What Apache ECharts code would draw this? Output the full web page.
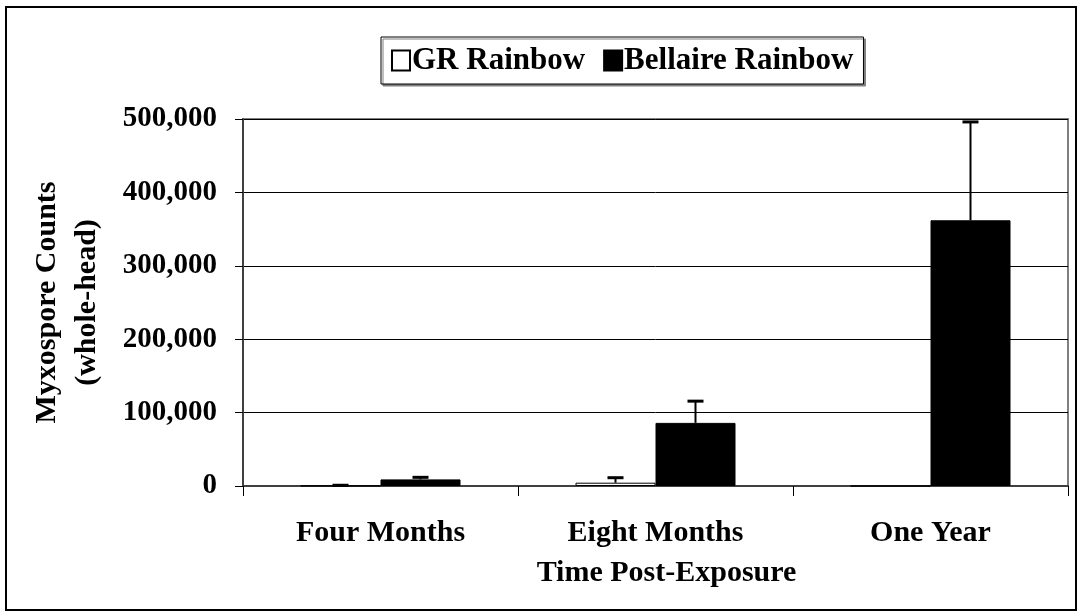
<!DOCTYPE html>
<html>
<head>
<meta charset="utf-8">
<script src="https://cdn.jsdelivr.net/npm/echarts@6/dist/echarts.min.js"></script>
<style>
  html, body { margin: 0; padding: 0; background: #fff; }
  #chart { width: 1081px; height: 615px; }
</style>
</head>
<body>
<div id="chart"></div>
<script>
var categories = ['Four Months', 'Eight Months', 'One Year'];
var yTicks = [0, 100000, 200000, 300000, 400000, 500000];
var grValues = [300, 4500, 0];
var grErrors = [700, 6800, 0];
var bellaireValues = [9000, 86000, 362000];
var bellaireErrors = [2800, 29600, 134000];

var FONT = '"Times New Roman", "Liberation Serif", serif';
var BAR_W = 80;

var chart = echarts.init(document.getElementById('chart'));

// error bar data: [category index, value, error]
var errData = function(vals, errs) {
	var res = [];
	for (var i = 0; i < vals.length; i++) {
		res.push([i, vals[i], errs[i]]);
	}
	return res;
};

var errRender = function(offset) {
	return function(params, api) {
		var err = api.value(2);
		if (!err) return;
		var v = api.value(1);
		var p0 = api.coord([api.value(0), v]);
		var p1 = api.coord([api.value(0), v + err]);
		var x = p0[0] + offset;
		return {
			type: 'group',
			children: [{
				type: 'line',
				shape: { x1: x, y1: p0[1], x2: x, y2: p1[1] },
				style: { stroke: '#000', lineWidth: 2 }
			}, {
				type: 'line',
				shape: { x1: x - 8, y1: p1[1], x2: x + 8, y2: p1[1] },
				style: { stroke: '#000', lineWidth: 3 }
			}]
		};
	};
};

chart.setOption({
	animation: false,
	backgroundColor: '#fff',
	textStyle: { fontFamily: FONT },
	graphic: [{
		type: 'rect',
		shape: { x: 6, y: 7, width: 1070, height: 603 },
		style: { fill: 'none', stroke: '#000', lineWidth: 2 },
		silent: true,
		z: -1
	}],
	legend: {
		left: 381,
		top: 37,
		padding: [8, 10],
		itemGap: 18,
		itemWidth: 18,
		itemHeight: 20,
		borderColor: '#000',
		borderWidth: 1,
		backgroundColor: '#fff',
		shadowColor: '#808080',
		shadowOffsetX: 2,
		shadowOffsetY: 2,
		shadowBlur: 0,
		icon: 'rect',
		textStyle: { fontFamily: FONT, fontWeight: 'bold', fontSize: 31, color: '#000', padding: [0, 0, 0, -3] },
		data: ['GR Rainbow', 'Bellaire Rainbow']
	},
	grid: {
		left: 243,
		top: 119,
		right: 13,
		bottom: 129,
		show: true,
		borderColor: '#808080',
		borderWidth: 2,
		containLabel: false,
		outerBoundsMode: 'none'
	},
	xAxis: {
		type: 'category',
		data: categories,
		name: 'Time Post-Exposure',
		nameLocation: 'middle',
		nameGap: 72,
		nameTextStyle: { fontFamily: FONT, fontWeight: 'bold', fontSize: 30, color: '#000', padding: [0, 0, 0, 22] },
		axisLine: { lineStyle: { color: '#404040', width: 2 } },
		axisTick: { show: true, length: 10, lineStyle: { color: '#000', width: 1 } },
		axisLabel: { margin: 32, fontFamily: FONT, fontWeight: 'bold', fontSize: 30, color: '#000' }
	},
	yAxis: {
		type: 'value',
		min: yTicks[0],
		max: yTicks[yTicks.length - 1],
		interval: yTicks[1] - yTicks[0],
		name: 'Myxospore Counts\n(whole-head)',
		nameLocation: 'middle',
		nameRotate: 90,
		nameGap: 136,
		nameTextStyle: { fontFamily: FONT, fontWeight: 'bold', fontSize: 30, color: '#000', lineHeight: 40, align: 'center' },
		axisLine: { show: true, lineStyle: { color: '#404040', width: 2 } },
		axisTick: { show: true, length: 8, lineStyle: { color: '#000', width: 1 } },
		axisLabel: {
			margin: 26,
			fontFamily: FONT,
			fontWeight: 'bold',
			fontSize: 29,
			color: '#000',
			formatter: function(v) { return v.toLocaleString('en-US'); }
		},
		splitLine: { show: true, lineStyle: { color: '#000', width: 1 } }
	},
	series: [{
		name: 'GR Rainbow',
		type: 'bar',
		barWidth: BAR_W,
		barGap: '0%',
		data: grValues,
		itemStyle: { color: '#fff', borderColor: '#000', borderWidth: 1 }
	}, {
		name: 'Bellaire Rainbow',
		type: 'bar',
		barWidth: BAR_W,
		barGap: '0%',
		data: bellaireValues,
		itemStyle: { color: '#000', borderColor: '#000', borderWidth: 1 }
	}, {
		type: 'custom',
		silent: true,
		renderItem: errRender(-BAR_W / 2),
		data: errData(grValues, grErrors),
		z: 10
	}, {
		type: 'custom',
		silent: true,
		renderItem: errRender(BAR_W / 2),
		data: errData(bellaireValues, bellaireErrors),
		z: 10
	}]
});
window.onresize = chart.resize;
</script>
</body>
</html>
